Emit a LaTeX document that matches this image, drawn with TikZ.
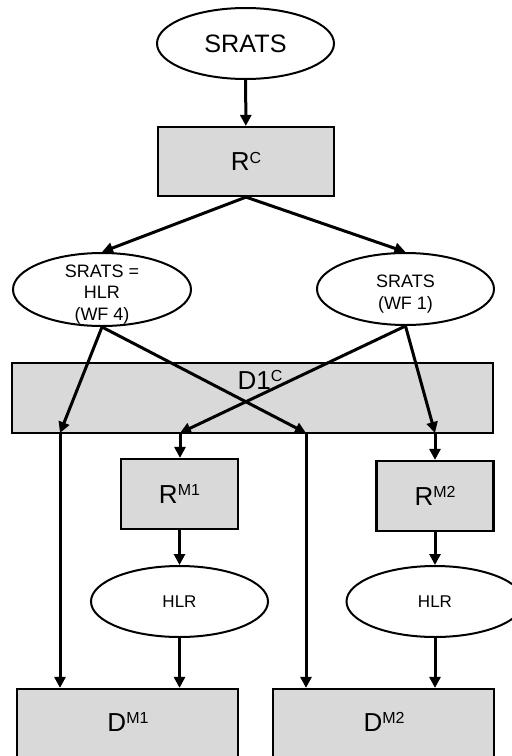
\documentclass[tikz,border=0pt]{standalone}
\usepackage{fontspec}
\setmainfont{Liberation Sans}
\usetikzlibrary{shapes.geometric,arrows.meta}
\definecolor{boxgray}{HTML}{D9D9D9}
\tikzset{
  oval/.style={draw, ellipse, line width=1pt, inner sep=0pt, fill=white,
    minimum width=88.5pt, minimum height=35.5pt, align=center},
  ovaltext/.style={align=center, font=\fontsize{9}{10.85}\selectfont,
    inner sep=0pt, yshift=-2.5pt},
  greybox/.style={draw, rectangle, line width=1.1pt, fill=boxgray, inner sep=0pt},
  arr/.style={line width=1.5pt, -{Triangle[length=5.5pt,width=5.5pt]}},
  bigtxt/.style={font=\fontsize{13}{15}\selectfont, inner sep=0pt},
}
\newcommand{\supx}[1]{\raisebox{0.55ex}{\fontsize{8}{8}\selectfont #1}}
\begin{document}
\begin{tikzpicture}[x=0.5pt,y=-0.5pt]
\useasboundingbox (0,0) rectangle (512,756);
\clip (0,0) rectangle (512,756);

% top of the chain
\node[oval, font=\fontsize{12.6}{14}\selectfont] (srats) at (245.5,43.5) {SRATS};
\node[greybox, bigtxt, minimum width=88pt, minimum height=34.5pt] (rc) at (246,161.5) {R\supx{C}};

% the two workflows (text set a little below the centre)
\node[oval, minimum width=89pt, minimum height=36.5pt] (wf4) at (102,289.5) {};
\node[ovaltext] (wf4t) at (wf4.center) {SRATS =\\HLR\\(WF 4)};
\node[oval, minimum width=88.5pt, minimum height=36pt] (wf1) at (405.5,289) {};
\node[ovaltext] (wf1t) at (wf1.center) {SRATS\\(WF 1)};

% wide D1 box
\node[greybox, minimum width=240.5pt, minimum height=35pt] (d1c) at (252.5,398) {};
\node[bigtxt] (d1ct) at (260,380) {D1\supx{C}};

% M1 / M2 chains
\node[greybox, bigtxt, minimum width=58.5pt, minimum height=35pt] (rm1) at (179.5,494) {R\supx{M1}};
\node[greybox, bigtxt, minimum width=58.5pt, minimum height=35pt] (rm2) at (435,496) {R\supx{M2}};
\node[oval, font=\fontsize{8.5}{10}\selectfont] (hlr1) at (179.5,601.5) {HLR};
\node[oval, font=\fontsize{8.5}{10}\selectfont] (hlr2) at (435,601.5) {HLR};

% bottom boxes, running past the lower edge
\node[greybox, minimum width=110.5pt, minimum height=51pt] (dm1) at (127.5,740) {};
\node[greybox, minimum width=110.5pt, minimum height=51pt] (dm2) at (383.5,740) {};
\node[bigtxt] (dm1t) at (128,722) {D\supx{M1}};
\node[bigtxt] (dm2t) at (384,722) {D\supx{M2}};

% entry points on the lower edge of D1
\coordinate (p1) at (60,433);
\coordinate (p2) at (180,433);
\coordinate (p3) at (306,433);
\coordinate (p4) at (435,433);

% connectors
\draw[arr] (srats) -- (rc);
\draw[arr] (rc.south) -- (wf4.north);
\draw[arr] (rc.south) -- (wf1.north);
\draw[arr] (wf4.south) -- (p1);
\draw[arr] (wf4.south) -- (p3);
\draw[arr] (wf1.south) -- (p2);
\draw[arr] (wf1.south) -- (p4);
\draw[arr] (p1) -- (p1 |- dm1.north);
\draw[arr] (p3) -- (p3 |- dm2.north);
\draw[arr] (p2) -- (p2 |- rm1.north);
\draw[arr] (p4) -- (p4 |- rm2.north);
\draw[arr] (rm1.south) -- (hlr1.north);
\draw[arr] (rm2.south) -- (hlr2.north);
\draw[arr] (hlr1.south) -- (hlr1.south |- dm1.north);
\draw[arr] (hlr2.south) -- (hlr2.south |- dm2.north);
\end{tikzpicture}
\end{document}
